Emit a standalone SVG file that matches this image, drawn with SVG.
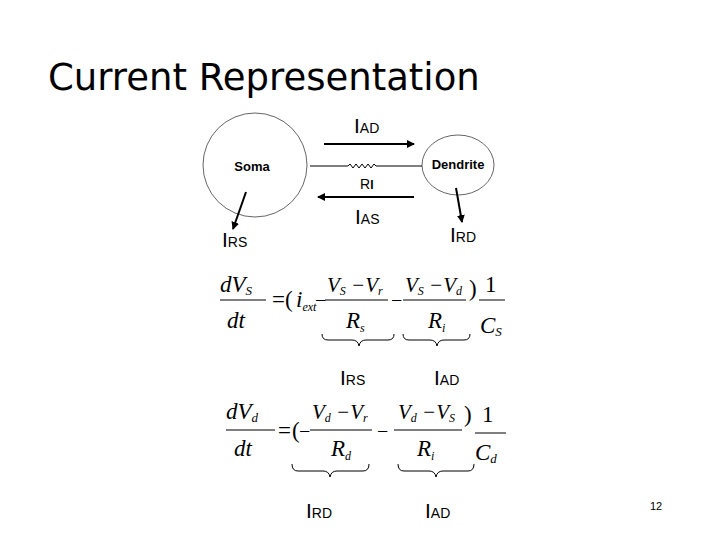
<svg xmlns="http://www.w3.org/2000/svg" width="720" height="540" viewBox="0 0 720 540">
<style>
.s{font-family:"Liberation Sans",Arial,sans-serif;fill:#000}
.m{font-family:"Liberation Serif","Times New Roman",serif;font-style:italic;fill:#000}
.r{font-family:"Liberation Serif","Times New Roman",serif;fill:#000}
.ln{stroke:#000;fill:none}
</style>
<defs>
<marker id="ah" markerWidth="8" markerHeight="8" refX="7" refY="4" orient="auto" markerUnits="userSpaceOnUse"><path d="M0,0 L8,4 L0,8z" fill="#000"/></marker>
</defs>
<rect width="720" height="540" fill="#fff"/>
<text x="48" y="90" font-family="DejaVu Sans,Verdana,sans-serif" font-size="37">Current Representation</text>
<g id="soma"><circle cx="255" cy="165" r="52" fill="#fff" stroke="#666"/><text class="s" x="252" y="171" font-size="13" font-weight="bold" text-anchor="middle">Soma</text></g>
<g id="dendrite"><ellipse cx="458" cy="165" rx="36" ry="30" fill="#fff" stroke="#666"/><text class="s" x="458" y="169" font-size="13" font-weight="bold" text-anchor="middle">Dendrite</text></g>
<g id="connectors">
<path class="ln" d="M310,166 H348 l2,-2 l3,4 l3,-4 l3,4 l3,-4 l3,4 l3,-4 l3,4 l3,-4 l2,2 H422"/>
<line class="ln" x1="324" y1="144" x2="414" y2="144" stroke-width="2" marker-end="url(#ah)"/>
<line class="ln" x1="414" y1="197" x2="318" y2="197" stroke-width="2" marker-end="url(#ah)"/>
<line class="ln" x1="246" y1="192" x2="233" y2="229" stroke-width="2" marker-end="url(#ah)"/>
<line class="ln" x1="456" y1="188" x2="462" y2="222" stroke-width="2" marker-end="url(#ah)"/>
</g>
<g class="s" font-size="21">
<text x="354" y="133">I<tspan font-size="14">AD</tspan></text>
<text x="355" y="224">I<tspan font-size="14">AS</tspan></text>
<text x="360" y="189" font-size="14">R<tspan font-size="12" font-weight="bold">I</tspan></text>
<text x="222" y="247">I<tspan font-size="14">RS</tspan></text>
<text x="450" y="242">I<tspan font-size="14">RD</tspan></text>
<text x="340" y="385">I<tspan font-size="14">RS</tspan></text>
<text x="434" y="385">I<tspan font-size="14">AD</tspan></text>
<text x="306" y="518">I<tspan font-size="14">RD</tspan></text>
<text x="425" y="518">I<tspan font-size="14">AD</tspan></text>
<text x="650" y="510" font-size="11">12</text>
</g>
<g id="eq1" font-size="23">
<text class="m" x="220" y="292">dV<tspan font-size="13" dy="3">S</tspan></text>
<line class="ln" x1="220" y1="300" x2="266" y2="300"/>
<text class="m" x="227" y="328">dt</text>
<text class="r" x="272" y="307">=(</text>
<text class="m" x="296" y="307">i<tspan font-size="12" dy="4">ext</tspan></text>
<text class="r" x="315" y="307" font-size="20">−</text>
<text class="m" x="327" y="292" font-size="21">V<tspan font-size="12" dy="3">S</tspan><tspan class="r" dy="-3"> −</tspan>V<tspan font-size="12" dy="3">r</tspan></text>
<line class="ln" x1="325" y1="300" x2="388" y2="300"/>
<text class="m" x="346" y="328">R<tspan font-size="12" dy="4">s</tspan></text>
<text class="r" x="391" y="307" font-size="20">−</text>
<text class="m" x="405" y="292" font-size="21">V<tspan font-size="12" dy="3">S</tspan><tspan class="r" dy="-3"> −</tspan>V<tspan font-size="12" dy="3">d</tspan></text>
<line class="ln" x1="403" y1="300" x2="466" y2="300"/>
<text class="m" x="428" y="328">R<tspan font-size="12" dy="4">i</tspan></text>
<text class="r" x="469" y="296">)</text>
<text class="r" x="485" y="292">1</text>
<line class="ln" x1="479" y1="300" x2="505" y2="300"/>
<text class="m" x="480" y="333">C<tspan font-size="13" dy="3">S</tspan></text>
<path class="ln" d="M322,334 q0,6 6,6 H352 q6,0 7,6 q1,-6 7,-6 H388 q6,0 6,-6"/>
<path class="ln" d="M403,334 q0,6 6,6 H430 q6,0 7,6 q1,-6 7,-6 H464 q6,0 6,-6"/>
</g>
<g id="eq2" font-size="23">
<text class="m" x="226" y="419">dV<tspan font-size="13" dy="3">d</tspan></text>
<line class="ln" x1="226" y1="430" x2="275" y2="430"/>
<text class="m" x="234" y="456">dt</text>
<text class="r" x="278" y="438">=</text>
<text class="r" x="292" y="438">(</text>
<text class="r" x="299" y="438" font-size="20">−</text>
<text class="m" x="312" y="419" font-size="21">V<tspan font-size="12" dy="3">d</tspan><tspan class="r" dy="-3"> −</tspan>V<tspan font-size="12" dy="3">r</tspan></text>
<line class="ln" x1="310" y1="430" x2="372" y2="430"/>
<text class="m" x="331" y="456">R<tspan font-size="12" dy="4">d</tspan></text>
<text class="r" x="377" y="438" font-size="20">−</text>
<text class="m" x="398" y="419" font-size="21">V<tspan font-size="12" dy="3">d</tspan><tspan class="r" dy="-3"> −</tspan>V<tspan font-size="12" dy="3">S</tspan></text>
<line class="ln" x1="394" y1="430" x2="462" y2="430"/>
<text class="m" x="417" y="456">R<tspan font-size="12" dy="4">i</tspan></text>
<text class="r" x="464" y="422">)</text>
<text class="r" x="482" y="422">1</text>
<line class="ln" x1="475" y1="433" x2="506" y2="433"/>
<text class="m" x="475" y="460">C<tspan font-size="13" dy="3">d</tspan></text>
<path class="ln" d="M292,464 q0,7 6,7 H323 q6,0 7,6 q1,-6 7,-6 H363 q6,0 6,-7"/>
<path class="ln" d="M398,464 q0,7 6,7 H429 q6,0 7,6 q1,-6 7,-6 H468 q6,0 6,-7"/>
</g>
</svg>
